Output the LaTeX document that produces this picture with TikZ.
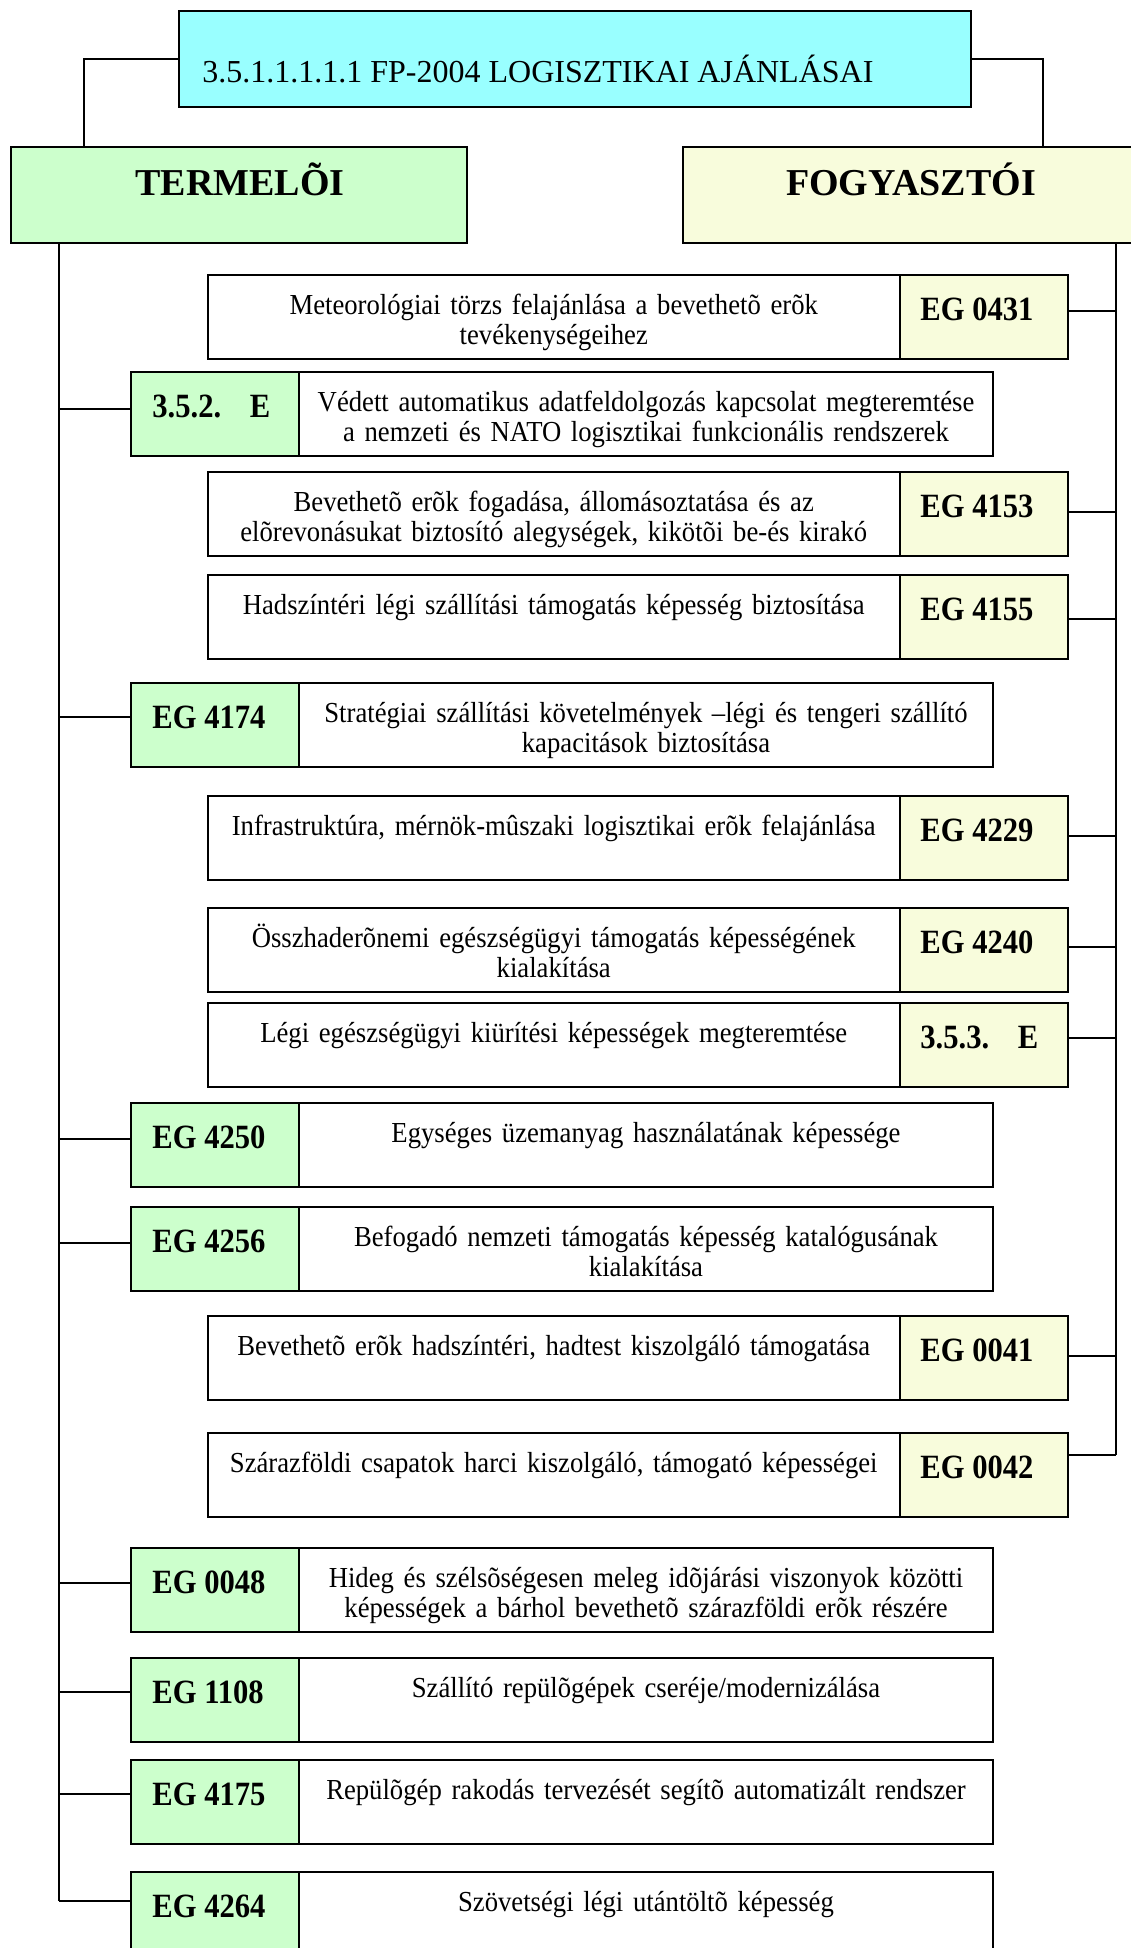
\documentclass[tikz,border=0pt]{standalone}
\usepackage{fontspec}
\setmainfont{Liberation Serif}
\newfontfamily\narrowserif[FakeStretch=0.92]{Liberation Serif}
\newfontfamily\codeserif[FakeStretch=0.9]{Liberation Serif}

\definecolor{headcyan}{HTML}{99FFFF}
\definecolor{prodgreen}{HTML}{CCFFCC}
\definecolor{consyellow}{HTML}{F8FCDC}

\begin{document}
\begin{tikzpicture}[x=0.5pt,y=-0.5pt,
  box/.style={draw=black, line width=1pt, inner sep=0pt, outer sep=0pt, anchor=north west},
  titlebox/.style={box, fill=headcyan, minimum width=396pt, minimum height=48pt},
  headbox/.style={box, minimum width=228pt, minimum height=48pt},
  descR/.style={box, fill=white, minimum width=346.25pt, minimum height=42pt},
  codeR/.style={box, fill=consyellow, minimum width=84pt, minimum height=42pt},
  descL/.style={box, fill=white, minimum width=347pt, minimum height=42pt},
  codeL/.style={box, fill=prodgreen, minimum width=84pt, minimum height=42pt},
  titletext/.style={font=\fontsize{16pt}{16pt}\selectfont, anchor=base west, inner sep=0pt},
  headtext/.style={font=\fontsize{19pt}{19pt}\selectfont\bfseries, anchor=base, inner sep=0pt},
  desctext/.style={font=\narrowserif\fontsize{14.5pt}{15pt}\selectfont, text width=340pt, align=center, anchor=base, inner sep=0pt},
  codetext/.style={font=\codeserif\fontsize{17pt}{17pt}\selectfont\bfseries, anchor=base west, inner sep=0pt},
  link/.style={draw=black, line width=0.9pt}
]
\useasboundingbox (0,0) rectangle (1130,1948);

% consumer-side row: description on the left, code box on the right
\newcommand\rowR[5]{%
  \node[descR] (d#1) at (207.5,#2) {};
  \node[codeR] (c#1) at (900,#2) {};
  \node[desctext] (t#1) at ([yshift=-19.5pt]d#1.north) {#5};
  \node[codetext] (k#1) at ([xshift=10pt,yshift=-22.5pt]c#1.north west) {#4};
  \coordinate (j#1) at (1116,#3);
  \draw[link] (c#1.east |- j#1) -- (j#1);
}
% producer-side row: code box on the left, description on the right
\newcommand\rowL[5]{%
  \node[codeL] (c#1) at (131,#2) {};
  \node[descL] (d#1) at (299,#2) {};
  \node[desctext] (t#1) at ([yshift=-19.5pt]d#1.north) {#5};
  \node[codetext] (k#1) at ([xshift=10.5pt,yshift=-22.5pt]c#1.north west) {#4};
  \coordinate (j#1) at (59,#3);
  \draw[link] (j#1) -- (j#1 -| c#1.west);
}

% header
\node[titlebox] (title) at (179,11) {};
\node[titletext] (titlelabel) at (202,83) {3.5.1.1.1.1.1 FP-2004 LOGISZTIKAI AJÁNLÁSAI};

\node[headbox, fill=prodgreen] (term) at (11,147) {};
\node[headtext] (termlabel) at (240,195) {TERMELÕI};
\node[headbox, fill=consyellow, minimum width=228.5pt] (fogy) at (683,147) {};
\node[headtext] (fogylabel) at (911,195) {FOGYASZTÓI};

\coordinate (tl) at (84,147);
\coordinate (tr) at (1043,147);
\draw[link] (title.west) -| (tl);
\draw[link] (title.east) -| (tr);

% rows
\rowR{r1}{275}{311}{EG 0431}{Meteorológiai törzs felajánlása a bevethetõ erõk\\tevékenységeihez}
\rowL{r2}{372}{409}{3.5.2.\hspace{0.84em}E}{Védett automatikus adatfeldolgozás kapcsolat megteremtése\\a nemzeti és NATO logisztikai funkcionális rendszerek}
\rowR{r3}{472}{512}{EG 4153}{Bevethetõ erõk fogadása, állomásoztatása és az\\elõrevonásukat biztosító alegységek, kikötõi be-és kirakó}
\rowR{r4}{575}{619}{EG 4155}{Hadszíntéri légi szállítási támogatás képesség biztosítása}
\rowL{r5}{683}{717}{EG 4174}{Stratégiai szállítási követelmények –légi és tengeri szállító\\kapacitások biztosítása}
\rowR{r6}{796}{836}{EG 4229}{Infrastruktúra, mérnök-mûszaki logisztikai erõk felajánlása}
\rowR{r7}{908}{947}{EG 4240}{Összhaderõnemi egészségügyi támogatás képességének\\kialakítása}
\rowR{r8}{1003}{1038}{3.5.3.\hspace{0.84em}E}{Légi egészségügyi kiürítési képességek megteremtése}
\rowL{r9}{1103}{1139}{EG 4250}{Egységes üzemanyag használatának képessége}
\rowL{r10}{1207}{1243}{EG 4256}{Befogadó nemzeti támogatás képesség katalógusának\\kialakítása}
\rowR{r11}{1316}{1356}{EG 0041}{Bevethetõ erõk hadszíntéri, hadtest kiszolgáló támogatása}
\rowR{r12}{1433}{1455}{EG 0042}{Szárazföldi csapatok harci kiszolgáló, támogató képességei}
\rowL{r13}{1548}{1583}{EG 0048}{Hideg és szélsõségesen meleg idõjárási viszonyok közötti\\képességek a bárhol bevethetõ szárazföldi erõk részére}
\rowL{r14}{1658}{1692}{EG 1108}{Szállító repülõgépek cseréje/modernizálása}
\rowL{r15}{1760}{1794}{EG 4175}{Repülõgép rakodás tervezését segítõ automatizált rendszer}
\rowL{r16}{1872}{1901}{EG 4264}{Szövetségi légi utántöltõ képesség}

% trunk lines
\draw[link] (jr16 |- term.south) -- (jr16);
\draw[link] (jr12 |- fogy.south) -- (jr12);
\end{tikzpicture}
\end{document}
